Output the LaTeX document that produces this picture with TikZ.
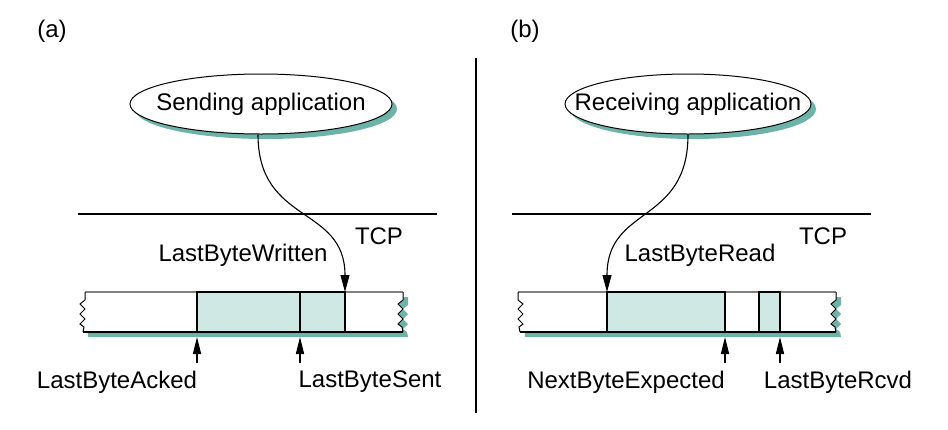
\documentclass[tikz,border=0pt]{standalone}
\usepackage{fontspec}
\setmainfont{Liberation Sans}
\usetikzlibrary{shapes.geometric,shadows,arrows.meta}
\definecolor{shad}{HTML}{6DB3A8}
\definecolor{bfill}{HTML}{D0E8E3}
\begin{document}
\begin{tikzpicture}[x=1pt,y=-1pt,
  lbl/.style={font=\fontsize{24}{28}\selectfont, inner sep=0pt},
  app/.style={ellipse, draw, line width=1pt, fill=white, inner sep=0pt, minimum height=60pt,
     drop shadow={shadow xshift=5pt, shadow yshift=-5pt, fill=shad, opacity=1}},
  tcpline/.style={line width=1.8pt},
  bufedge/.style={line width=1.6pt},
  zig/.style={line width=1pt},
  seg/.style={draw, line width=2.2pt, fill=bfill},
  ptr/.style={-{Triangle[length=17pt,width=9pt]}, line width=1.1pt},
  upptr/.style={-{Triangle[length=17pt,width=8pt]}, line width=1.6pt}]
\useasboundingbox (0,0) rectangle (948,429);

% ---------- (a) ----------
\node[lbl] (la) at (52,31) {(a)};
\node[app, minimum width=262pt] (sendshape) at (261,104) {};
\node[lbl] (send) at (261,104) {Sending application};
\draw[tcpline] (78,214) -- (437,214);
\node[lbl] (tcpa) at (379,236) {TCP};
% buffer shadow and body
\fill[shad, shift={(5,5)}] (85,292) -- (403,292) -- (403,300) -- (398,304) -- (403,309) -- (398,314) -- (403,319) -- (398,324) -- (402,327) -- (403,332) -- (83,332) -- cycle;
\fill[white] (85,292) -- (403,292) -- (403,300) -- (398,304) -- (403,309) -- (398,314) -- (403,319) -- (398,324) -- (402,327) -- (403,332) -- (83,332) -- (84,327) -- (80,324) -- (85,319) -- (80,314) -- (85,309) -- (80,304) -- (85,300) -- cycle;
\draw[bufedge, gray] (85,292) -- (403,292);
\draw[bufedge] (83,332) -- (403,332);
\draw[zig] (85,292) -- (85,300) -- (80,304) -- (85,309) -- (80,314) -- (85,319) -- (80,324) -- (84,327) -- (83,332);
\draw[zig] (403,292) -- (403,300) -- (398,304) -- (403,309) -- (398,314) -- (403,319) -- (398,324) -- (402,327) -- (403,332);
\draw[seg] (197,292) rectangle (300,332);
\draw[seg] (300,292) rectangle (345,332);
\coordinate (wend) at (345,292);
\draw[ptr] (sendshape.south) ++(-3,0) .. controls (258,225) and (345,205) .. (wend);
\node[lbl] (lbw) at (243,255) {LastByteWritten};
\coordinate (acked) at (197,337);
\coordinate (ackedb) at (197,363);
\coordinate (sent) at (300,337);
\coordinate (sentb) at (300,363);
\draw[upptr] (ackedb) -- (acked);
\draw[upptr] (sentb) -- (sent);
\node[lbl] (lba) at (117,382) {LastByteAcked};
\node[lbl] (lbs) at (370,382) {LastByteSent};

% divider
\draw[line width=1.4pt] (476,58) -- (476,413);

% ---------- (b) ----------
\node[lbl] (lb) at (525,31) {(b)};
\node[app, minimum width=246pt] (recvshape) at (688,104) {};
\node[lbl] (recv) at (688,104) {Receiving application};
\draw[tcpline] (512,214) -- (871,214);
\node[lbl] (tcpb) at (823,236) {TCP};
\fill[shad, shift={(5,5)}] (518,292) -- (836,292) -- (836,300) -- (831,304) -- (836,309) -- (831,314) -- (836,319) -- (831,324) -- (835,327) -- (836,332) -- (520,332) -- cycle;
\fill[white] (518,292) -- (836,292) -- (836,300) -- (831,304) -- (836,309) -- (831,314) -- (836,319) -- (831,324) -- (835,327) -- (836,332) -- (520,332) -- (519,327) -- (523,324) -- (518,319) -- (523,314) -- (518,309) -- (523,304) -- (518,300) -- cycle;
\draw[bufedge, gray] (518,292) -- (836,292);
\draw[bufedge] (520,332) -- (836,332);
\draw[zig] (518,292) -- (518,300) -- (523,304) -- (518,309) -- (523,314) -- (518,319) -- (523,324) -- (519,327) -- (520,332);
\draw[zig] (836,292) -- (836,300) -- (831,304) -- (836,309) -- (831,314) -- (836,319) -- (831,324) -- (835,327) -- (836,332);
\draw[seg] (607,292) rectangle (725,332);
\draw[seg] (759,292) rectangle (780,332);
\coordinate (rend) at (607,292);
\draw[ptr] (recvshape.south) .. controls (688,225) and (607,205) .. (rend);
\node[lbl] (lbr) at (700,255) {LastByteRead};
\coordinate (nbe) at (725,337);
\coordinate (nbeb) at (725,363);
\coordinate (rcvd) at (780,337);
\coordinate (rcvdb) at (780,363);
\draw[upptr] (nbeb) -- (nbe);
\draw[upptr] (rcvdb) -- (rcvd);
\node[lbl] (lne) at (626,382) {NextByteExpected};
\node[lbl] (lrc) at (838,382) {LastByteRcvd};
\end{tikzpicture}
\end{document}
